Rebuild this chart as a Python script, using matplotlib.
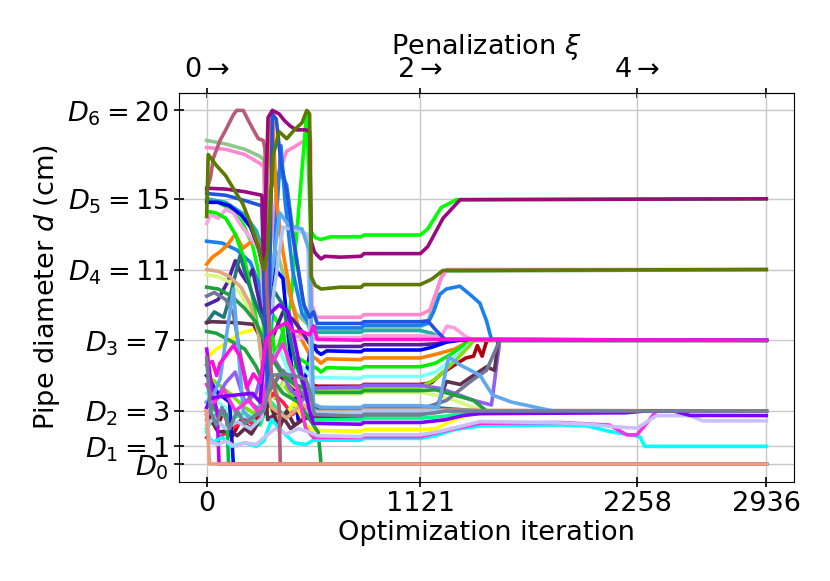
import matplotlib
matplotlib.use("Agg")
import matplotlib.pyplot as plt

# pipe diameter history: (iteration, diameter in cm)
lime_a = [(0, 14.9), (60, 14.8), (130, 14.4), (190, 13.6), (240, 12.4), (280, 10.5), (310, 6.0), (345, 8.5),
          (400, 7.5), (440, 9.0), (480, 14.0), (525, 19.9), (545, 13.2), (570, 12.8), (600, 12.7), (650, 12.85),
          (810, 12.85), (825, 12.95), (1121, 12.95), (1160, 13.3), (1230, 14.5), (1310, 14.95), (2936, 15.0)]
purple = [(0, 15.6), (100, 15.55), (200, 15.4), (290, 15.2), (300, 11.5), (322, 19.6), (345, 20.0), (380, 19.8),
          (410, 19.4), (440, 19.1), (470, 18.9), (520, 18.9), (540, 18.8), (548, 12.6), (565, 12.0), (580, 11.8),
          (600, 11.6), (620, 11.75), (700, 11.7), (810, 11.75), (825, 11.9), (1121, 11.9), (1160, 12.3),
          (1240, 13.9), (1330, 14.95), (2936, 15.0)]
olive = [(0, 14.0), (8, 17.5), (50, 16.9), (100, 16.3), (150, 15.4), (190, 14.7), (230, 13.6), (270, 12.3),
         (300, 11.0), (320, 12.0), (350, 17.5), (380, 18.8), (420, 18.4), (460, 18.9), (500, 19.3), (525, 20.0),
         (540, 19.8), (548, 10.6), (570, 10.1), (600, 9.9), (700, 10.0), (810, 10.0), (825, 10.15), (1121, 10.15),
         (1180, 10.45), (1240, 10.95), (2936, 11.0)]
pink = [(0, 17.9), (100, 17.8), (200, 17.5), (280, 17.0), (300, 16.8), (315, 10.0), (340, 13.0), (380, 16.5),
        (420, 17.7), (470, 18.0), (530, 18.4), (545, 18.4), (552, 9.0), (575, 8.3), (700, 8.3), (810, 8.3),
        (825, 8.45), (1121, 8.45), (1170, 8.7), (1200, 9.6), (1230, 10.5), (1260, 11.0), (2936, 11.0)]
pale_green = [(0, 18.3), (100, 18.1), (200, 17.8), (280, 17.4), (300, 17.2), (320, 9.0), (370, 12.0), (420, 10.0),
              (470, 8.5), (540, 7.8), (580, 7.6), (810, 7.6), (825, 7.75), (1121, 7.75), (1160, 8.0), (1200, 9.5),
              (1240, 10.9), (2936, 11.0)]
royal = [(0, 15.3), (100, 15.2), (200, 14.9), (290, 14.6), (300, 10.0), (320, 4.0), (345, 19.8), (365, 19.5),
         (390, 17.0), (420, 15.5), (450, 13.0), (480, 11.0), (510, 9.0), (540, 8.3), (560, 8.6), (580, 7.95),
         (810, 7.95), (825, 8.05), (1121, 8.05), (1160, 8.1), (1200, 7.6), (1250, 7.05), (2936, 7.0)]
dodger = [(0, 12.6), (80, 12.5), (160, 12.1), (230, 11.4), (280, 10.0), (300, 8.5), (330, 5.0), (360, 13.0),
          (390, 18.0), (410, 15.0), (450, 11.0), (500, 8.5), (540, 7.9), (580, 7.7), (810, 7.7), (825, 7.85),
          (1121, 7.85), (1160, 7.95), (1190, 8.6), (1223, 9.6), (1258, 9.9), (1328, 10.06), (1380, 9.6),
          (1433, 9.1), (1468, 8.1), (1494, 7.05), (2936, 7.0)]
teal = [(0, 15.0), (100, 14.8), (200, 14.1), (260, 13.2), (300, 12.0), (330, 15.5), (380, 16.5), (420, 15.8),
        (460, 12.5), (500, 9.5), (540, 7.6), (580, 7.45), (810, 7.45), (825, 7.55), (1121, 7.55), (1180, 7.4),
        (1240, 7.05), (2936, 7.0)]
light_pink = [(0, 13.6), (20, 14.1), (60, 13.9), (100, 14.4), (140, 14.2), (180, 13.5), (230, 12.8), (280, 12.0),
              (310, 7.5), (360, 6.5), (420, 7.3), (480, 7.2), (540, 7.0), (580, 7.15), (810, 7.15), (825, 7.25),
              (1121, 7.25), (1230, 7.2), (1260, 7.8), (1300, 7.7), (1360, 7.2), (1400, 7.0), (2936, 7.0)]
indigo = [(0, 9.0), (60, 9.3), (110, 10.3), (150, 11.5), (180, 10.8), (210, 10.3), (240, 11.0), (270, 9.5),
          (300, 8.0), (340, 7.0), (400, 8.6), (450, 8.2), (500, 7.5), (540, 6.8), (580, 6.65), (810, 6.65),
          (825, 6.75), (1121, 6.75), (1200, 6.8), (1300, 7.0), (2936, 7.0)]
blue = [(0, 14.8), (60, 14.8), (120, 14.6), (180, 14.1), (230, 13.4), (270, 12.3), (300, 11.0), (320, 8.0),
        (360, 11.0), (400, 10.5), (440, 6.0), (480, 2.5), (520, 5.0), (550, 6.8), (580, 6.35), (600, 6.2),
        (630, 6.4), (810, 6.35), (825, 6.45), (1121, 6.45), (1180, 6.6), (1260, 6.9), (1330, 7.0), (2936, 7.0)]
orange = [(0, 11.3), (30, 11.7), (70, 12.0), (110, 12.4), (150, 13.0), (190, 12.2), (260, 12.8), (300, 11.5),
          (330, 19.0), (345, 20.0), (365, 15.0), (400, 12.0), (450, 9.0), (500, 7.0), (540, 6.2), (580, 5.9),
          (600, 5.7), (630, 5.95), (810, 5.9), (825, 6.0), (1121, 6.0), (1200, 6.2), (1300, 6.5), (1360, 6.85),
          (1400, 7.0), (2936, 7.0)]
lime_b = [(0, 14.3), (50, 14.2), (100, 13.9), (150, 13.0), (200, 11.5), (240, 9.5), (270, 7.5), (300, 5.0),
          (330, 8.5), (360, 6.0), (400, 7.5), (440, 5.0), (480, 6.0), (540, 5.6), (580, 5.4), (600, 5.2),
          (630, 5.45), (810, 5.4), (825, 5.5), (1121, 5.5), (1200, 5.7), (1280, 6.2), (1360, 6.8), (1410, 7.0),
          (2936, 7.0)]
light_cyan = [(0, 4.0), (60, 3.5), (120, 3.0), (200, 2.6), (280, 3.0), (320, 5.5), (380, 6.5), (440, 5.0),
              (500, 5.5), (550, 4.9), (810, 4.85), (825, 4.95), (1121, 4.95), (1200, 5.2), (1300, 6.0),
              (1380, 6.8), (1400, 7.0), (2936, 7.0)]
dark_red = [(0, 3.0), (50, 2.0), (90, 3.0), (130, 1.5), (180, 2.5), (230, 2.0), (280, 3.0), (320, 4.0),
            (380, 5.0), (440, 4.5), (500, 4.0), (550, 4.5), (580, 4.4), (810, 4.4), (825, 4.5), (1121, 4.5),
            (1180, 4.6), (1230, 5.1), (1300, 5.6), (1360, 6.0), (1400, 6.1), (1420, 6.7), (1445, 6.1),
            (1470, 7.0), (2936, 7.0)]
yellow_green = [(0, 5.0), (50, 4.6), (120, 4.0), (200, 3.2), (260, 2.8), (320, 4.5), (360, 3.7), (400, 4.6),
                (450, 3.8), (500, 4.4), (560, 4.25), (810, 4.25), (825, 4.35), (1121, 4.35), (1200, 4.8),
                (1300, 5.8), (1380, 6.7), (1400, 7.0), (2936, 7.0)]
pale_yg = [(0, 10.7), (60, 10.6), (120, 10.3), (180, 9.6), (230, 8.6), (280, 7.0), (320, 5.0), (360, 3.8),
           (420, 4.8), (480, 4.2), (540, 4.0), (580, 3.95), (810, 3.95), (825, 4.05), (1121, 4.05), (1200, 3.9),
           (1300, 3.6), (1400, 3.2), (1470, 3.0), (2936, 3.0)]
light_blue = [(0, 3.5), (40, 4.0), (70, 4.8), (140, 9.9), (192, 3.0), (230, 2.5), (280, 3.0), (320, 9.0),
              (384, 14.2), (430, 13.5), (500, 13.3), (540, 12.0), (560, 3.4), (600, 3.2), (810, 3.2), (825, 3.3),
              (1121, 3.3), (1215, 3.2), (1270, 6.06), (1330, 5.6), (1433, 5.03), (1500, 3.9), (1600, 3.5),
              (1817, 3.0), (2936, 3.0)]
steel = [(0, 2.2), (40, 2.6), (100, 2.0), (160, 2.4), (230, 2.0), (290, 2.6), (330, 8.0), (400, 13.4),
         (480, 13.2), (530, 13.0), (550, 3.2), (580, 2.9), (810, 2.9), (825, 3.0), (1121, 3.0), (2936, 3.0)]
dark_teal = [(0, 8.0), (40, 8.6), (90, 8.3), (130, 9.8), (175, 11.8), (210, 10.5), (260, 9.0), (300, 8.0),
             (340, 10.0), (400, 9.0), (460, 6.0), (520, 4.0), (560, 3.2), (810, 3.15), (825, 3.25), (1121, 3.25),
             (1300, 3.1), (1450, 3.0), (2936, 3.0)]
red = [(0, 1.5), (40, 1.2), (80, 1.6), (130, 2.0), (200, 2.5), (260, 2.2), (300, 3.2), (350, 4.0), (400, 3.5),
       (450, 2.8), (500, 3.3), (560, 3.0), (810, 3.0), (825, 3.1), (1121, 3.1), (1300, 3.0), (2936, 3.0)]
spring = [(0, 2.0), (60, 3.0), (120, 2.5), (200, 2.9), (280, 2.2), (330, 3.6), (400, 2.8), (470, 3.4),
          (540, 2.6), (580, 2.5), (810, 2.5), (825, 2.6), (1121, 2.6), (1250, 2.7), (1400, 3.0), (2936, 3.0)]
blue_violet = [(0, 3.2), (20, 3.7), (60, 3.8), (150, 3.9), (240, 4.0), (280, 3.5), (320, 8.4), (380, 9.0),
               (430, 8.6), (480, 6.0), (540, 3.0), (560, 2.3), (810, 2.25), (825, 2.35), (1121, 2.35),
               (1250, 2.5), (1350, 2.75), (1433, 2.85), (2200, 2.9), (2300, 3.0), (2450, 3.0), (2535, 2.75),
               (2936, 2.74)]
yellow = [(0, 6.0), (50, 6.5), (100, 6.8), (175, 7.4), (280, 7.7), (300, 6.0), (340, 3.0), (400, 2.5),
          (460, 3.5), (520, 2.2), (560, 1.9), (810, 1.85), (825, 1.95), (1121, 1.95), (1200, 2.0), (1300, 2.5),
          (1420, 2.95), (2936, 3.0)]
medium_purple = [(0, 2.5), (40, 3.5), (100, 4.6), (150, 5.2), (200, 3.5), (260, 4.0), (320, 6.5), (380, 5.5),
                 (440, 4.2), (500, 3.6), (560, 4.3), (810, 4.35), (825, 4.45), (1121, 4.45), (1223, 4.28),
                 (1300, 4.0), (1400, 3.6), (1494, 3.34), (1538, 7.0), (2936, 7.0)]
plum = [(0, 8.0), (25, 8.05), (150, 8.0), (245, 7.9), (290, 7.0), (320, 2.5), (380, 3.0), (440, 2.0),
        (500, 2.5), (560, 2.7), (810, 2.7), (825, 2.8), (1121, 2.8), (1200, 3.0), (1258, 4.67), (1330, 4.5),
        (1398, 5.0), (1468, 5.5), (1510, 5.3), (1530, 7.0), (2936, 7.0)]
plum_low = [(0, 2.8), (40, 2.2), (60, 1.8), (120, 1.9), (160, 1.6), (200, 2.0), (235, 1.7), (280, 2.5),
            (330, 3.5), (380, 2.0), (420, 3.0), (460, 2.2), (520, 2.6), (560, 2.9), (810, 2.9), (825, 3.0),
            (1121, 3.0), (2936, 3.0)]
gray_blue = [(0, 9.5), (40, 9.7), (100, 9.3), (140, 8.5), (180, 6.0), (230, 3.5), (280, 3.0), (320, 4.0),
             (400, 5.3), (500, 4.0), (560, 3.0), (810, 3.0), (825, 3.1), (1121, 3.1), (1258, 3.6), (1400, 4.8),
             (1468, 5.3), (1538, 7.0), (2936, 7.0)]
lavender = [(0, 3.0), (15, 1.3), (60, 1.1), (100, 1.3), (150, 1.0), (200, 1.2), (260, 1.1), (300, 1.5),
            (360, 2.0), (420, 1.7), (480, 2.0), (540, 1.8), (580, 1.6), (810, 1.55), (825, 1.65), (1121, 1.65),
            (1223, 1.85), (1433, 2.4), (1800, 2.35), (2000, 2.25), (2150, 2.1), (2258, 2.03), (2360, 2.74),
            (2535, 2.74), (2603, 2.44), (2936, 2.44)]
cyan = [(0, 1.8), (30, 1.2), (80, 1.5), (130, 1.0), (200, 1.2), (260, 1.0), (300, 1.3), (340, 2.5), (400, 1.8),
        (460, 1.2), (520, 1.1), (560, 1.35), (810, 1.35), (825, 1.45), (1121, 1.45), (1200, 1.6), (1300, 1.95),
        (1433, 2.15), (1852, 2.21), (2000, 2.15), (2114, 1.84), (2272, 1.56), (2298, 1.0), (2936, 1.0)]
pink_magenta = [(0, 4.5), (40, 3.5), (90, 4.2), (150, 3.0), (220, 3.6), (280, 2.8), (330, 5.5), (400, 6.8),
                (460, 5.0), (520, 2.0), (560, 1.5), (810, 1.5), (825, 1.55), (1121, 1.55), (1300, 2.0),
                (1433, 2.3), (1852, 2.35), (2114, 2.2), (2204, 1.65), (2257, 1.65), (2300, 2.2), (2360, 3.0),
                (2936, 3.0)]
dark_green = [(0, 7.5), (50, 7.4), (120, 7.0), (200, 6.5), (260, 5.5), (300, 4.5), (340, 6.0), (400, 5.0),
              (460, 4.5), (540, 4.2), (580, 4.05), (810, 4.05), (825, 4.15), (1121, 4.15), (1200, 4.2),
              (1300, 3.9), (1400, 3.6), (1468, 3.0), (2936, 3.0)]
sea_green = [(0, 10.0), (60, 9.9), (130, 9.5), (200, 8.8), (260, 8.0), (300, 7.0), (330, 5.0), (400, 4.0),
             (480, 3.5), (560, 2.2), (585, 1.8), (600, 0.0), (2936, 0.0)]
tan = [(0, 11.0), (60, 10.9), (120, 10.6), (180, 10.0), (230, 9.0), (270, 7.5), (300, 5.0), (340, 3.2),
       (420, 2.6), (500, 3.4), (560, 2.95), (810, 2.95), (825, 3.05), (1121, 3.05), (2936, 3.0)]
drop_blue = [(0, 5.0), (60, 4.0), (120, 3.5), (140, 0.0), (2936, 0.0)]
drop_green = [(0, 3.5), (50, 3.0), (105, 2.8), (115, 0.0), (2936, 0.0)]
drop_violet = [(0, 6.5), (30, 4.0), (55, 3.0), (65, 0.0), (2936, 0.0)]
magenta = [(0, 5.6), (30, 5.8), (52, 5.0), (70, 5.7), (140, 6.7), (175, 6.1), (210, 4.3), (245, 5.1),
           (280, 4.6), (315, 7.1), (367, 7.7), (419, 8.0), (454, 7.5), (500, 7.5), (540, 7.3), (560, 7.8),
           (580, 7.05), (810, 7.0), (825, 7.05), (1121, 7.05), (2936, 7.0)]
slate = [(0, 6.0), (20, 3.0), (50, 2.2), (80, 3.2), (120, 2.0), (160, 3.0), (200, 2.3), (260, 2.8), (300, 3.0),
         (340, 5.0), (400, 5.1), (460, 5.0), (520, 4.8), (545, 4.0), (565, 2.8), (810, 2.7), (825, 2.8),
         (1121, 2.8), (1200, 2.9), (1258, 3.0), (2936, 3.0)]
rose = [(0, 15.5), (20, 16.2), (35, 17.3), (70, 18.3), (100, 18.9), (140, 19.75), (157, 20.0), (192, 20.0),
        (220, 19.4), (245, 18.9), (271, 18.4), (297, 18.3), (306, 17.8), (315, 10.0), (340, 5.0), (380, 3.3),
        (386, 0.0), (2936, 0.0)]
salmon = [(0, 3.0), (15, 0.0), (2936, 0.0)]

pipes = [
    (pale_green, '#8cc88c'), (pink, '#ff88d0'), (lime_a, '#00ff00'), (teal, '#20b0a8'), (dodger, '#1a80f0'),
    (orange, '#ff8000'), (light_pink, '#ff9ee0'), (indigo, '#5020a0'), (blue, '#0000ff'), (lime_b, '#00f000'),
    (light_cyan, '#80ffff'), (dark_red, '#b00010'), (yellow_green, '#80e000'), (pale_yg, '#d8f880'),
    (dark_teal, '#207878'), (red, '#ff2050'), (spring, '#00ff88'), (yellow, '#ffff00'), (medium_purple, '#9060f0'),
    (plum, '#603050'), (plum_low, '#602848'), (gray_blue, '#707898'), (tan, '#e0a880'), (dark_green, '#20a040'),
    (sea_green, '#20a040'), (drop_blue, '#1010e0'), (drop_green, '#00c040'), (drop_violet, '#c000ff'),
    (steel, '#b0c4f0'), (light_blue, '#60a8f0'), (cyan, '#00ffff'), (pink_magenta, '#ff30e0'),
    (lavender, '#c8c0f8'), (blue_violet, '#8000ff'), (royal, '#2255dd'), (rose, '#b85a78'), (purple, '#990a80'),
    (olive, '#5a7a00'), (magenta, '#ff10d8'), (slate, '#708098'), (salmon, '#e8a080'),
]

x_ticks = [0, 1121, 2258, 2936]
xi_ticks = [0, 1121, 2258, 2936]
xi_labels = [r'$0 \rightarrow$', r'$2 \rightarrow$', r'$4 \rightarrow$', '']
d_ticks = [0, 1, 3, 7, 11, 15, 20]
d_labels = [r'$D_0$', r'$D_1 = 1$', r'$D_2 = 3$', r'$D_3 = 7$', r'$D_4 = 11$', r'$D_5 = 15$', r'$D_6 = 20$']

fs = 19.5
fig = plt.figure(figsize=(8.3, 5.81), dpi=100)
ax = fig.add_axes([0.2153, 0.1709, 0.7417, 0.6695])

for pts, col in pipes:
    ax.plot([p[0] for p in pts], [p[1] for p in pts], color=col, lw=2.6, solid_joinstyle='round')

ax.set_xticks(x_ticks)
ax.set_xticklabels([str(t) for t in x_ticks], fontsize=fs)
ax.set_yticks(d_ticks)
ax.set_yticklabels(d_labels, fontsize=fs)
ax.tick_params(direction='inout', length=7, width=1.2)
ax.grid(True, color='#c8c8c8', lw=1.0)
ax.set_axisbelow(True)
ax.set_xlabel('Optimization iteration', fontsize=fs, labelpad=2)
ax.set_ylabel(r'Pipe diameter $d$ (cm)', fontsize=fs)

top = ax.secondary_xaxis('top')
top.set_xticks(xi_ticks)
top.set_xticklabels(xi_labels, fontsize=fs)
top.tick_params(direction='inout', length=7, width=1.2)
top.set_xlabel(r'Penalization $\xi$', fontsize=fs, labelpad=2)

fig.savefig('out.png', dpi=100)
